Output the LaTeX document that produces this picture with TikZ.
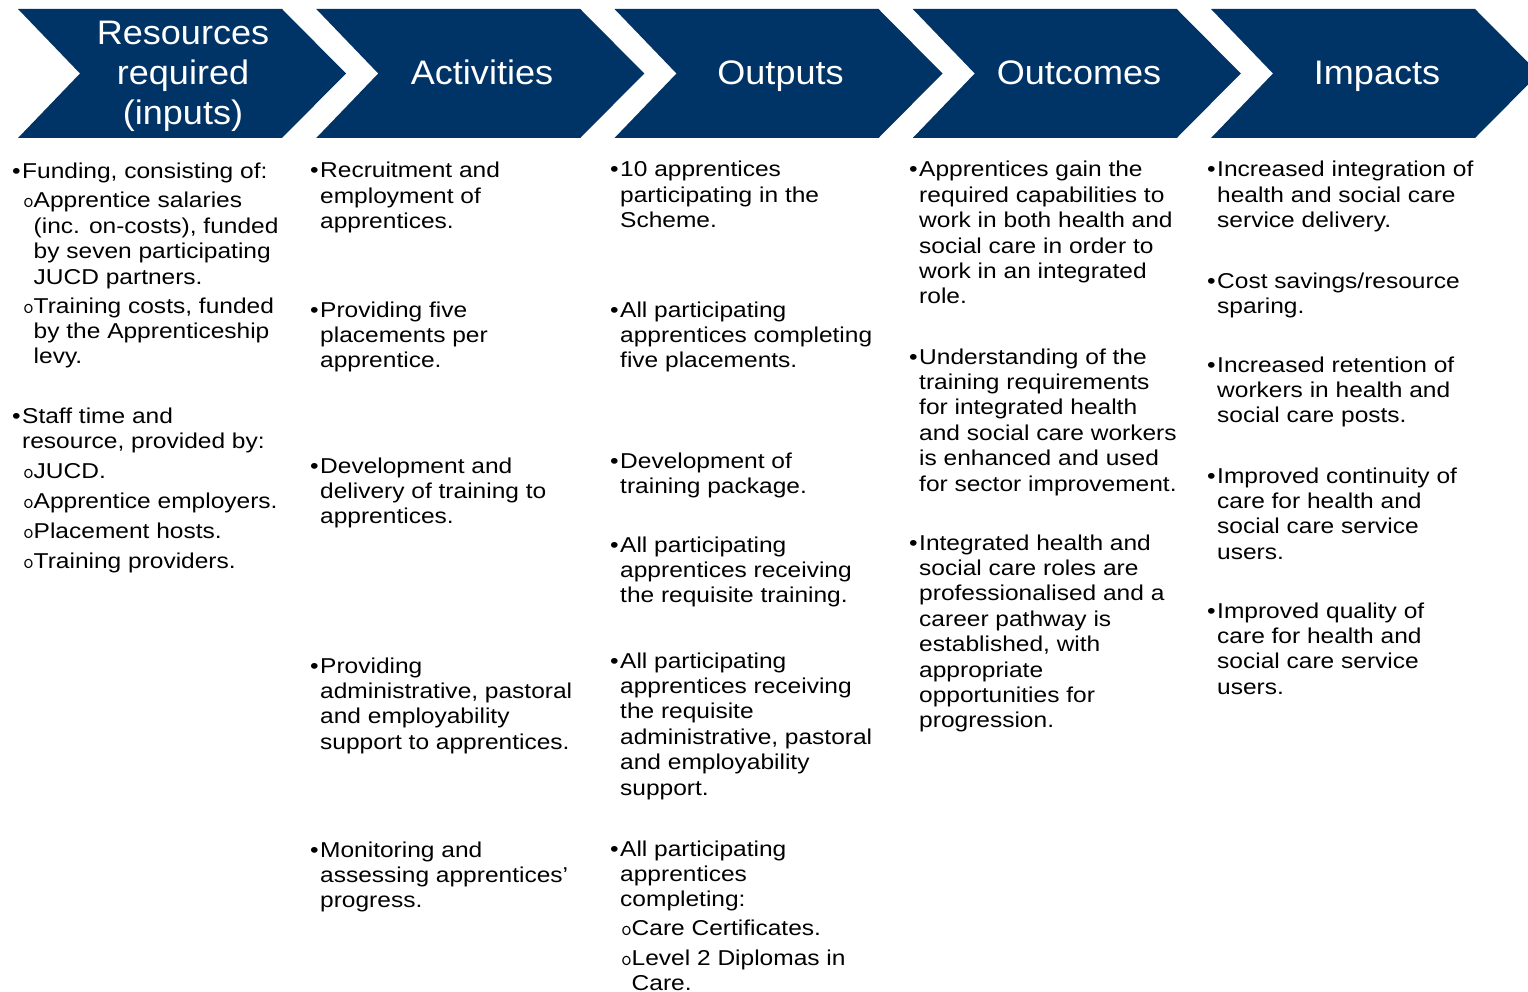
\documentclass[tikz,border=0pt]{standalone}
\usepackage{fontspec}
\setmainfont{Liberation Sans}[FakeStretch=1.14]
\newfontfamily\headfont{Liberation Sans}[FakeStretch=1.06]
\definecolor{navy}{RGB}{0,52,102}
% bullet markers: a solid dot for items, a thin ring for sub-items
\newcommand{\dotmark}{\makebox[10pt][l]{•}}
\newcommand{\ringmark}{\makebox[10.5pt][l]{{\ttfamily\fontsize{21}{21}\selectfont o}}}
% a block of explicit lines whose baseline is the first line
\newcommand{\lns}[1]{\begin{tabular}[t]{@{}l@{}}#1\end{tabular}}
\begin{document}
\begin{tikzpicture}[x=1pt,y=-1pt,
  chev/.style={fill=navy,draw=none},
  head/.style={text=white,font=\headfont\fontsize{34}{40}\selectfont,inner sep=0pt,anchor=base},
  body/.style={text=black,font=\fontsize{21.5}{25.4}\selectfont,inner sep=0pt,anchor=base west}]
\useasboundingbox (0,0) rectangle (1528,992);
\fill[white] (0,0) rectangle (1528,992);

% stage chevrons
\foreach \i in {0,...,4}{
  \pgfmathsetmacro{\xo}{18+298.25*\i}
  \fill[chev] (\xo,9) -- ({\xo+264},9) -- ({\xo+328},73.5) -- ({\xo+264},138)
    -- (\xo,138) -- ({\xo+62},73.5) -- cycle;
}

% stage titles
\node[head] (hinputs) at (183,45) {\begin{tabular}[t]{@{}c@{}}Resources\\required\\(inputs)\end{tabular}};
\node[head] (hactivities) at (482,85) {Activities};
\node[head] (houtputs) at (780.5,85) {Outputs};
\node[head] (houtcomes) at (1079,85) {Outcomes};
\node[head] (himpacts) at (1377,85) {Impacts};

% resources required
\node[body] (in1) at (12,179) {\dotmark\lns{Funding, consisting of:}};
\node[body] (in1a) at (23,208) {\ringmark\lns{Apprentice salaries\\(inc. on-costs), funded\\by seven participating\\JUCD partners.}};
\node[body] (in1b) at (23,313) {\ringmark\lns{Training costs, funded\\by the Apprenticeship\\levy.}};
\node[body] (in2) at (12,423) {\dotmark\lns{Staff time and\\resource, provided by:}};
\node[body] (in2a) at (23,478) {\ringmark JUCD.};
\node[body] (in2b) at (23,508) {\ringmark Apprentice employers.};
\node[body] (in2c) at (23,538) {\ringmark Placement hosts.};
\node[body] (in2d) at (23,568) {\ringmark Training providers.};

% activities
\node[body] (ac1) at (310,178) {\dotmark\lns{Recruitment and\\employment of\\apprentices.}};
\node[body] (ac2) at (310,317) {\dotmark\lns{Providing five\\placements per\\apprentice.}};
\node[body] (ac3) at (310,473) {\dotmark\lns{Development and\\delivery of training to\\apprentices.}};
\node[body] (ac4) at (310,673) {\dotmark\lns{Providing\\administrative, pastoral\\and employability\\support to apprentices.}};
\node[body] (ac5) at (310,857) {\dotmark\lns{Monitoring and\\assessing apprentices’\\progress.}};

% outputs
\node[body] (op1) at (610,177) {\dotmark\lns{10 apprentices\\participating in the\\Scheme.}};
\node[body] (op2) at (610,317) {\dotmark\lns{All participating\\apprentices completing\\five placements.}};
\node[body] (op3) at (610,468) {\dotmark\lns{Development of\\training package.}};
\node[body] (op4) at (610,552) {\dotmark\lns{All participating\\apprentices receiving\\the requisite training.}};
\node[body] (op5) at (610,668) {\dotmark\lns{All participating\\apprentices receiving\\the requisite\\administrative, pastoral\\and employability\\support.}};
\node[body] (op6) at (610,856) {\dotmark\lns{All participating\\apprentices\\completing:}};
\node[body] (op6a) at (621,935) {\ringmark Care Certificates.};
\node[body] (op6b) at (621,965) {\ringmark\lns{Level 2 Diplomas in\\Care.}};

% outcomes
\node[body] (oc1) at (909,177) {\dotmark\lns{Apprentices gain the\\required capabilities to\\work in both health and\\social care in order to\\work in an integrated\\role.}};
\node[body] (oc2) at (909,364) {\dotmark\lns{Understanding of the\\training requirements\\for integrated health\\and social care workers\\is enhanced and used\\for sector improvement.}};
\node[body] (oc3) at (909,550) {\dotmark\lns{Integrated health and\\social care roles are\\professionalised and a\\career pathway is\\established, with\\appropriate\\opportunities for\\progression.}};

% impacts
\node[body] (im1) at (1207,177) {\dotmark\lns{Increased integration of\\health and social care\\service delivery.}};
\node[body] (im2) at (1207,288) {\dotmark\lns{Cost savings/resource\\sparing.}};
\node[body] (im3) at (1207,372) {\dotmark\lns{Increased retention of\\workers in health and\\social care posts.}};
\node[body] (im4) at (1207,483) {\dotmark\lns{Improved continuity of\\care for health and\\social care service\\users.}};
\node[body] (im5) at (1207,618) {\dotmark\lns{Improved quality of\\care for health and\\social care service\\users.}};
\end{tikzpicture}
\end{document}
